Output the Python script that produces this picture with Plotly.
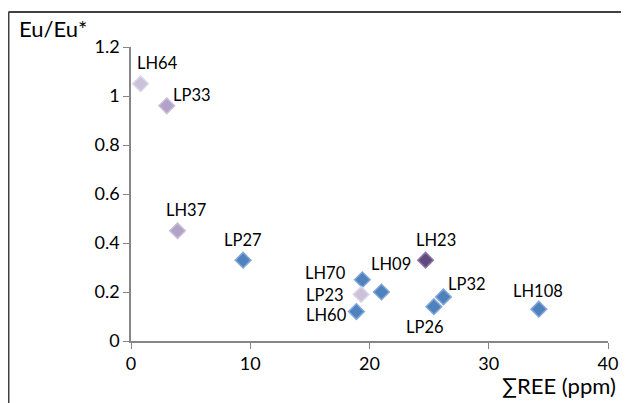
import plotly.graph_objects as go

names = ["LH64", "LP33", "LH37", "LP27", "LH70", "LP23", "LH60", "LH09", "LH23", "LP26", "LP32", "LH108"]
sum_ree = [0.8, 3.0, 3.9, 9.4, 19.4, 19.3, 18.9, 21.0, 24.7, 25.4, 26.2, 34.2]
eu_ratio = [1.05, 0.96, 0.45, 0.33, 0.25, 0.19, 0.12, 0.20, 0.33, 0.14, 0.18, 0.13]
groups = ["light", "mid", "mid", "blue", "blue", "light", "blue", "blue", "dark", "blue", "blue", "blue"]
x_ticks = [0, 10, 20, 30, 40]
y_ticks = [0, 0.2, 0.4, 0.6, 0.8, 1, 1.2]
y_tick_labels = ["0", "0.2", "0.4", "0.6", "0.8", "1", "1.2"]

colors = {"blue": ("#4F81BD", "#7FA6D6"), "light": ("#CCC1DA", "#DDD5E7"),
          "mid": ("#B3A2C7", "#C9BDD8"), "dark": ("#604A7B", "#8C77A6")}
# label placement: (xanchor, yanchor, xshift, yshift)
label_pos = {
    "LH64": ("center", "bottom", 17, 9), "LP33": ("left", "bottom", 4, -1),
    "LH37": ("center", "bottom", 8, 9), "LP27": ("center", "bottom", 0, 8),
    "LH70": ("right", "middle", -14, 7), "LP23": ("right", "middle", -15, -1),
    "LH60": ("right", "middle", -7, -3), "LH09": ("center", "bottom", 10, 16),
    "LH23": ("center", "bottom", 10, 8), "LP26": ("center", "top", -9, -8),
    "LP32": ("left", "bottom", 3, 1), "LH108": ("center", "bottom", -1, 6),
}

FONT = "Lato, 'Open Sans', sans-serif"
fig = go.Figure()
for g in ["blue", "light", "mid", "dark"]:
    idx = [i for i, gg in enumerate(groups) if gg == g]
    fig.add_trace(go.Scatter(
        x=[sum_ree[i] for i in idx], y=[eu_ratio[i] for i in idx],
        mode="markers", showlegend=False,
        marker=dict(symbol="diamond", size=12, color=colors[g][0],
                    line=dict(color=colors[g][1], width=1.5))))

for n, xv, yv in zip(names, sum_ree, eu_ratio):
    xa, ya, xs, ys = label_pos[n]
    fig.add_annotation(x=xv, y=yv, text=n, showarrow=False, xanchor=xa, yanchor=ya,
                       xshift=xs, yshift=ys, font=dict(size=16.5, color="#000000", family=FONT))

# page body has an 8px margin; figure spans the remaining window
W, H = 621, 395
ml, mr, mt, mb = 123, 21, 39, 62
pw, ph = W - ml - mr, H - mt - mb
fx = (0.5 - ml) / pw
fy = 1 + (mt - 4) / ph
fig.add_shape(type="line", xref="paper", yref="paper", x0=fx, x1=fx, y0=fy, y1=-mb / ph - 0.05,
              line=dict(color="#404040", width=2))
fig.add_shape(type="line", xref="paper", yref="paper", x0=fx, x1=1 + mr / pw + 0.05, y0=fy, y1=fy,
              line=dict(color="#404040", width=2))

fig.add_annotation(xref="paper", yref="paper", x=(9 - ml) / pw, y=1 + (mt - 20) / ph,
                   text="Eu/Eu*", showarrow=False, xanchor="left", yanchor="middle",
                   font=dict(size=22, color="#000000", family=FONT))
fig.add_annotation(xref="paper", yref="paper", x=(610 - ml) / pw, y=-(377 - mt - ph) / ph,
                   text="∑REE (ppm)", showarrow=False, xanchor="right", yanchor="middle",
                   font=dict(size=22, color="#000000", family=FONT))

fig.update_layout(
    width=W, height=H, autosize=False, margin=dict(l=ml, r=mr, t=mt, b=mb, autoexpand=False),
    paper_bgcolor="white", plot_bgcolor="white",
    xaxis=dict(range=[0, 40], tickvals=x_ticks, showgrid=False, zeroline=False, automargin=False,
               showline=True, linecolor="#868686", linewidth=1.5, ticks="outside",
               ticklen=6, tickcolor="#868686", tickfont=dict(size=18, color="#000000", family=FONT)),
    yaxis=dict(range=[0, 1.2], tickvals=y_ticks, ticktext=y_tick_labels, showgrid=False, automargin=False,
               zeroline=False, showline=True, linecolor="#868686", linewidth=1.5, ticks="outside",
               ticklen=6, tickcolor="#868686", tickfont=dict(size=18, color="#000000", family=FONT)),
)
fig.write_html("out.html", config={"responsive": False})
